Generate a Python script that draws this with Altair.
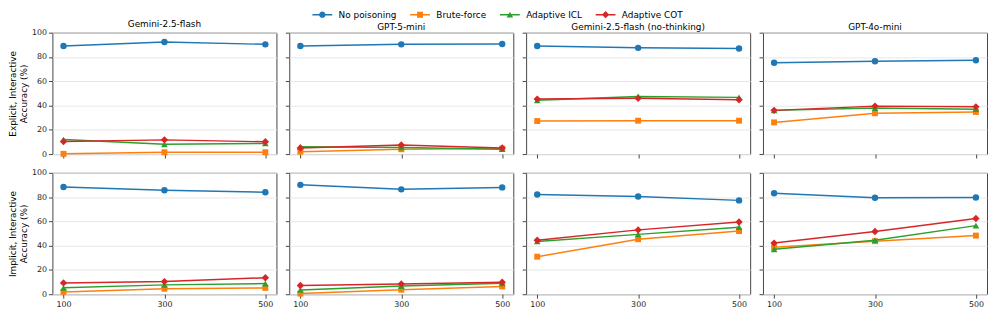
import altair as alt
import pandas as pd

models = ["Gemini-2.5-flash", "GPT-5-mini", "Gemini-2.5-flash (no-thinking)", "GPT-4o-mini"]
series = ["No poisoning", "Brute-force", "Adaptive ICL", "Adaptive COT"]
colors = ["#1f77b4", "#ff7f0e", "#2ca02c", "#d62728"]
budgets = [100, 300, 500]
y_ticks = [0, 20, 40, 60, 80, 100]
row_titles = [["Explicit, Interactive", "Accuracy (%)"], ["Implicit, Interactive", "Accuracy (%)"]]

# values per model: rows = series (No poisoning, Brute-force, Adaptive ICL, Adaptive COT)
explicit_gemini = [[89.0, 92.3, 90.4], [0.2, 1.5, 1.5], [12.0, 8.0, 8.8], [10.4, 11.7, 10.1]]
explicit_gpt5mini = [[89.0, 90.4, 90.7], [2.0, 4.0, 4.5], [6.0, 5.5, 4.0], [5.0, 7.5, 5.0]]
explicit_gemini_nt = [[89.0, 87.5, 87.0], [27.2, 27.5, 27.5], [44.3, 47.5, 46.7], [45.3, 45.9, 44.8]]
explicit_gpt4omini = [[75.2, 76.5, 77.3], [26.1, 33.6, 34.7], [36.0, 37.9, 37.0], [36.0, 39.5, 38.9]]

implicit_gemini = [[88.3, 85.6, 84.0], [1.9, 4.5, 5.2], [5.3, 7.7, 8.8], [9.3, 10.4, 13.6]]
implicit_gpt5mini = [[90.1, 86.4, 88.0], [0.5, 3.7, 6.4], [3.5, 6.7, 9.0], [7.2, 8.5, 9.9]]
implicit_gemini_nt = [[82.1, 80.5, 77.3], [30.9, 45.3, 52.0], [43.5, 49.3, 55.2], [44.5, 53.0, 59.5]]
implicit_gpt4omini = [[83.2, 79.5, 79.7], [38.7, 43.7, 48.3], [37.0, 44.5, 56.5], [42.1, 51.7, 62.4]]

grid_values = [
    [explicit_gemini, explicit_gpt5mini, explicit_gemini_nt, explicit_gpt4omini],
    [implicit_gemini, implicit_gpt5mini, implicit_gemini_nt, implicit_gpt4omini],
]

marker_shapes = ["circle", "square", "triangle-up", "diamond"]
marker_sizes = [42, 36, 45, 56]

bar = "M-3.35,-0.26H3.35V0.26H-3.35Z "
legend_paths = [
    bar + "M1.08,0A1.08,1.08 0 1,1 -1.08,0A1.08,1.08 0 1,1 1.08,0Z",
    bar + "M-1,-1H1V1H-1Z",
    bar + "M0,-0.97L1.12,0.97H-1.12Z",
    bar + "M0,-1.25L1.25,0L0,1.25L-1.25,0Z",
]

FONT = "DejaVu Sans"
W, H = 227, 123

rows = []
for r in range(2):
    for c, m in enumerate(models):
        for si, s in enumerate(series):
            for bi, b in enumerate(budgets):
                rows.append({"row": r, "model": m, "series": s, "n": b,
                             "acc": grid_values[r][c][si][bi]})
df = pd.DataFrame(rows)

color_scale = alt.Scale(domain=series, range=colors)
legend = alt.Legend(
    orient="none", legendX=269, legendY=-23, direction="horizontal", columns=4,
    title=None, labelFont=FONT, labelFontSize=9, labelColor="#000",
    symbolSize=36, symbolStrokeWidth=0, symbolOpacity=1,
    labelOffset=12, columnPadding=13, padding=0,
)


def panel(r, c):
    d = df[(df["row"] == r) & (df["model"] == models[c])]
    base = alt.Chart(d)
    x = alt.X("n:Q", scale=alt.Scale(domain=[78, 522], nice=False, zero=False),
              axis=alt.Axis(values=budgets, labels=(r == 1), title=None, grid=False,
                            format="d"))
    y_axis_args = dict(values=y_ticks, labels=(c == 0), grid=True)
    if c == 0:
        y = alt.Y("acc:Q", scale=alt.Scale(domain=[0, 100], nice=False),
                  axis=alt.Axis(title=row_titles[r], **y_axis_args))
    else:
        y = alt.Y("acc:Q", scale=alt.Scale(domain=[0, 100], nice=False),
                  axis=alt.Axis(title=None, **y_axis_args))
    layers = [base.mark_point(filled=True, opacity=0).encode(
        x=x, y=y,
        color=alt.Color("series:N", scale=color_scale, legend=legend),
        shape=alt.Shape("series:N", scale=alt.Scale(domain=series, range=legend_paths),
                        legend=legend),
    )]
    for si, s in enumerate(series):
        sb = base.transform_filter(alt.datum.series == s)
        layers.append(sb.mark_line(strokeWidth=1.5, color=colors[si]).encode(x=x, y=y))
        layers.append(sb.mark_point(filled=True, opacity=1, color=colors[si],
                                    shape=marker_shapes[si],
                                    size=marker_sizes[si]).encode(x=x, y=y))
    ch = alt.layer(*layers).properties(width=W, height=H)
    if r == 0:
        ch = ch.properties(title=alt.TitleParams(models[c], font=FONT, fontSize=9,
                                                 fontWeight="normal", color="#000",
                                                 offset=0, frame="group"))
    return ch


top = alt.hconcat(*[panel(0, c) for c in range(4)], spacing=7)
bottom = alt.hconcat(*[panel(1, c) for c in range(4)], spacing=7)
chart = alt.vconcat(top, bottom, spacing=9).properties(
    background="white",
    padding=0,
).configure_axis(
    labelFont=FONT, labelFontSize=8, labelColor="#222", tickColor="#444",
    tickSize=4, tickWidth=1, domain=False, gridColor="#e8e8e8", gridWidth=1,
    titleFont=FONT, titleFontSize=9, titleFontWeight="normal", titleColor="#000",
    labelPadding=2, titlePadding=3,
).configure_view(stroke="#444", strokeWidth=1)

chart.save("out.html", embed_options={"renderer": "svg", "actions": False})
